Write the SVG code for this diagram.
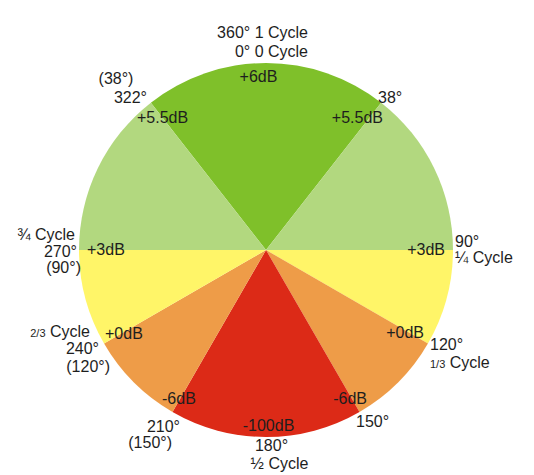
<svg xmlns="http://www.w3.org/2000/svg" width="534" height="475" viewBox="0 0 534 475">
<style>
text{font-family:"Liberation Sans",Arial,sans-serif;font-size:16px;fill:#1e1e1e}
.e{text-anchor:end}.m{text-anchor:middle}
.s{font-size:11px}
.g6{fill:#7fc02a}.g5{fill:#b2d87f}.y{fill:#fff568}.o{fill:#ee9c48}.r{fill:#dc2a17}
</style>
<rect width="534" height="475" fill="#ffffff"/>
<g id="sectors">
<path id="s-top" class="g6" d="M266 250 L150.87 102.64 A187 187 0 0 1 381.13 102.64 Z"/>
<path id="s-r1" class="g5" d="M266 250 L381.13 102.64 A187 187 0 0 1 453 250 Z"/>
<path id="s-r2" class="y" d="M266 250 L453 250 A187 187 0 0 1 427.95 343.5 Z"/>
<path id="s-r3" class="o" d="M266 250 L427.95 343.5 A187 187 0 0 1 359.5 411.95 Z"/>
<path id="s-bot" class="r" d="M266 250 L359.5 411.95 A187 187 0 0 1 172.5 411.95 Z"/>
<path id="s-l3" class="o" d="M266 250 L172.5 411.95 A187 187 0 0 1 104.05 343.5 Z"/>
<path id="s-l2" class="y" d="M266 250 L104.05 343.5 A187 187 0 0 1 79 250 Z"/>
<path id="s-l1" class="g5" d="M266 250 L79 250 A187 187 0 0 1 150.87 102.64 Z"/>
</g>
<g id="labels-db">
<text class="m" x="258.5" y="82">+6dB</text>
<text x="137" y="123">+5.5dB</text>
<text class="e" x="383" y="123">+5.5dB</text>
<text x="87" y="255">+3dB</text>
<text class="e" x="445" y="255">+3dB</text>
<text x="105" y="339">+0dB</text>
<text class="e" x="424" y="338">+0dB</text>
<text x="162" y="404">-6dB</text>
<text class="e" x="367" y="404">-6dB</text>
<text class="m" x="268.5" y="431">-100dB</text>
</g>
<g id="labels-angle">
<text class="e" x="308" y="38">360° 1 Cycle</text>
<text class="e" x="308" y="57">0° 0 Cycle</text>
<text class="m" x="116" y="84">(38°)</text>
<text class="e" x="147" y="103">322°</text>
<text x="378" y="103">38°</text>
<text class="e" x="75" y="240">¾ Cycle</text>
<text class="e" x="77" y="257">270°</text>
<text class="e" x="81" y="273">(90°)</text>
<text x="455" y="247">90°</text>
<text x="455" y="263">¼ Cycle</text>
<text class="e" x="90" y="337"><tspan class="s">2/3</tspan> Cycle</text>
<text class="e" x="99" y="354">240°</text>
<text class="e" x="110" y="372">(120°)</text>
<text x="430" y="350">120°</text>
<text x="430" y="368"><tspan class="s">1/3</tspan> Cycle</text>
<text class="e" x="180" y="432">210°</text>
<text class="e" x="172" y="448">(150°)</text>
<text x="356" y="427">150°</text>
<text class="m" x="271.5" y="451">180°</text>
<text class="m" x="279.5" y="468.5">½ Cycle</text>
</g>
</svg>
